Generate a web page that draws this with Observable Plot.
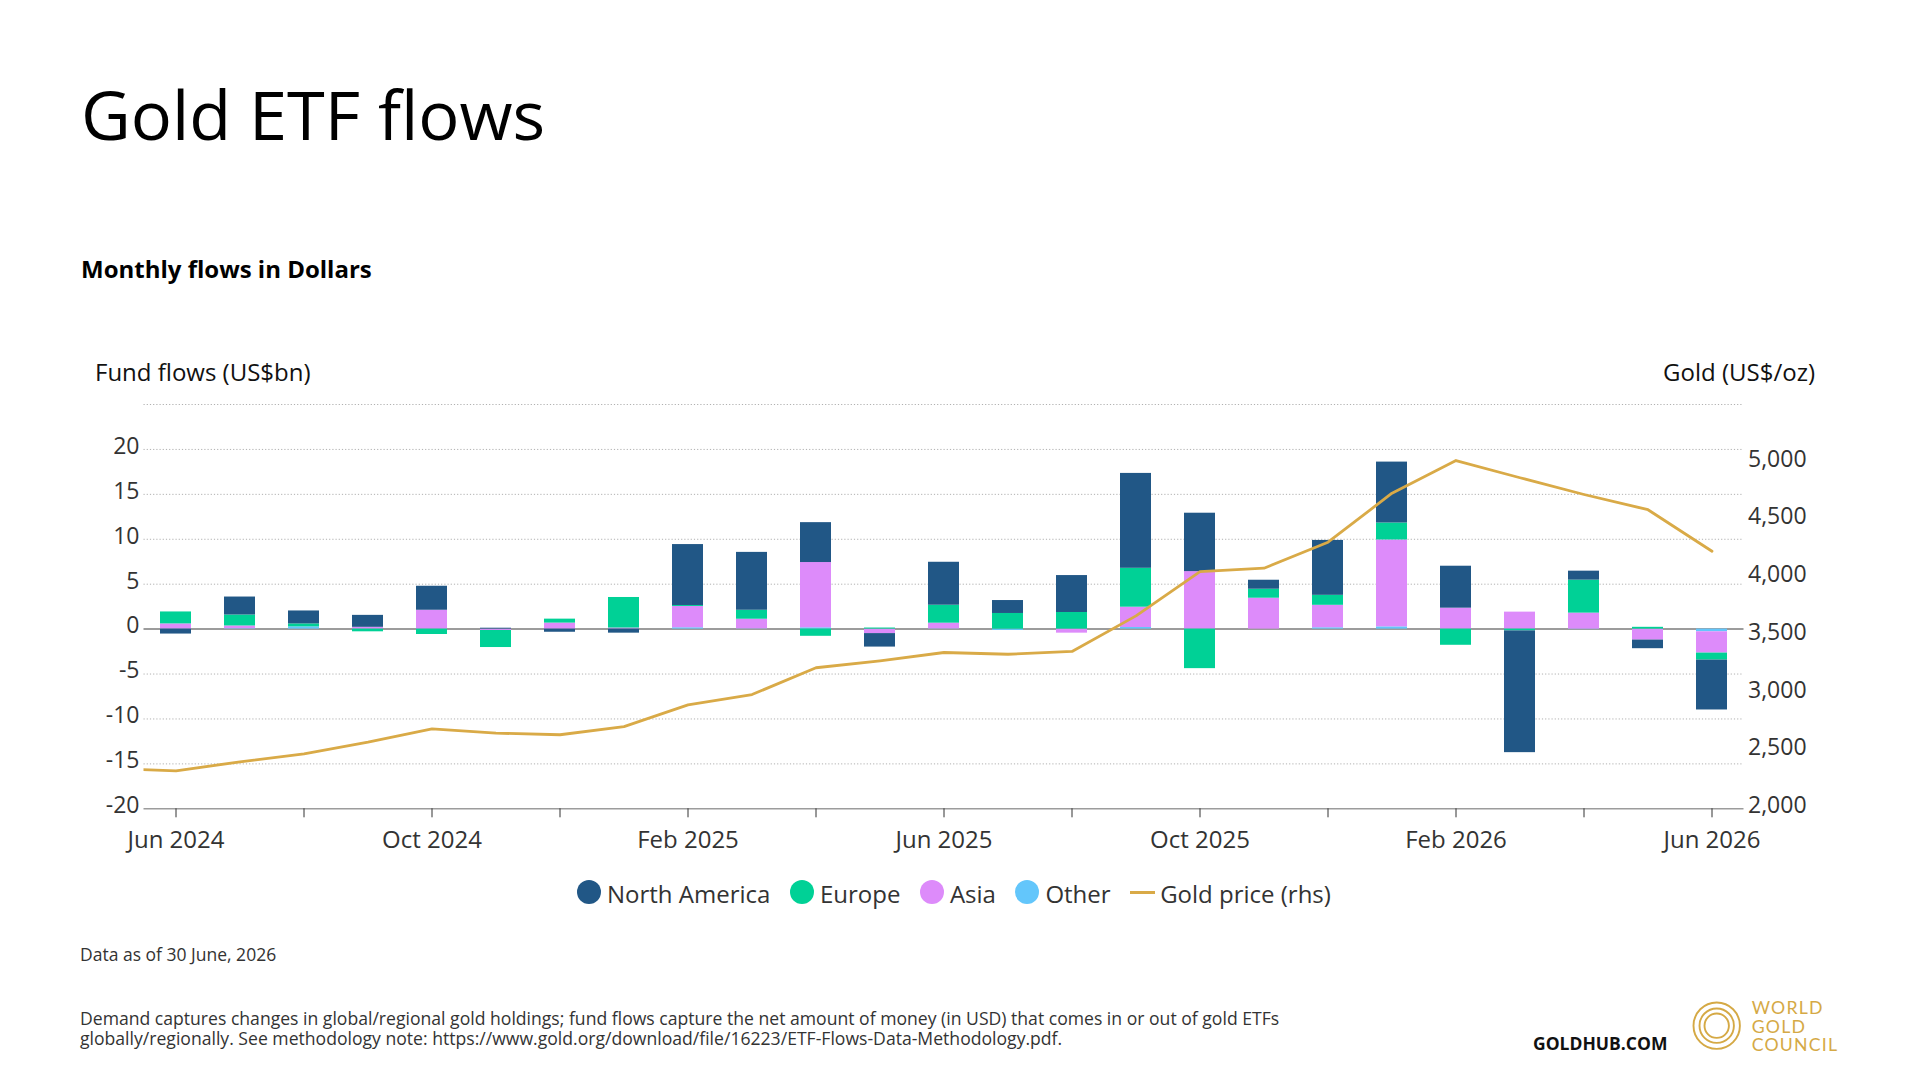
<!DOCTYPE html>
<html>
<head>
<meta charset="utf-8">
<script src="https://cdn.jsdelivr.net/npm/d3@7"></script>
<script src="https://cdn.jsdelivr.net/npm/@observablehq/plot@0.6"></script>
<style>
  html, body { margin: 0; padding: 0; background: #fff; }
  #page { position: relative; width: 1920px; height: 1080px; overflow: hidden; font-family: "Open Sans", sans-serif; color: #000; }
  .abs { position: absolute; white-space: nowrap; }
  #title { left: 81px; top: 80px; font-size: 68.5px; line-height: 68.5px; }
  #subtitle { left: 81px; top: 257px; font-size: 24px; line-height: 24px; font-weight: 700; }
  #ytitle-left { left: 95px; top: 360px; font-size: 24px; line-height: 24px; color: #111; }
  #ytitle-right { right: 105px; top: 360px; font-size: 24px; line-height: 24px; color: #111; }
  #chart { position: absolute; left: 0; top: 390px; }
  #legend { position: absolute; left: 577px; top: 882px; display: flex; align-items: center; font-size: 24px; line-height: 24px; color: #333; }
  #legend .item { display: flex; align-items: center; margin-right: 19.5px; }
  #legend .dot { width: 24px; height: 24px; border-radius: 50%; margin-right: 6px; position: relative; top: -2px; }
  #legend .dash { width: 25px; height: 3px; margin-right: 5px; position: relative; top: -2px; }
  #asof { left: 80px; top: 946px; font-size: 17.5px; line-height: 17.5px; color: #333; }
  .note { left: 80px; font-size: 17.6px; line-height: 17.6px; color: #333; }
  #note1 { top: 1010px; }
  #note2 { top: 1030px; }
  #goldhub { left: 1533px; top: 1035px; font-size: 17.5px; line-height: 17.5px; font-weight: 700; color: #111; }
  #logo { position: absolute; left: 1680px; top: 990px; }
</style>
</head>
<body>
<div id="page">
  <div id="title" class="abs">Gold ETF flows</div>
  <div id="subtitle" class="abs">Monthly flows in Dollars</div>
  <div id="ytitle-left" class="abs">Fund flows (US$bn)</div>
  <div id="ytitle-right" class="abs">Gold (US$/oz)</div>
  <div id="chart"></div>
  <div id="legend"></div>
  <div id="asof" class="abs">Data as of 30 June, 2026</div>
  <div id="note1" class="abs note">Demand captures changes in global/regional gold holdings; fund flows capture the net amount of money (in USD) that comes in or out of gold ETFs</div>
  <div id="note2" class="abs note">globally/regionally. See methodology note: https://www.gold.org/download/file/16223/ETF-Flows-Data-Methodology.pdf.</div>
  <div id="goldhub" class="abs">GOLDHUB.COM</div>
  <svg id="logo" width="220" height="72">
    <g fill="none" stroke="#d5a945" stroke-width="1.9">
      <circle cx="36.7" cy="35.7" r="23.2"></circle>
      <circle cx="36.7" cy="35.7" r="17.2"></circle>
      <circle cx="36.7" cy="35.7" r="12.2"></circle>
    </g>
    <g fill="#d5a945" font-family="Lato, sans-serif" font-size="17.7" letter-spacing="1.2">
      <text x="71.7" y="24.3">WORLD</text>
      <text x="71.7" y="43.3">GOLD</text>
      <text x="71.7" y="61">COUNCIL</text>
    </g>
  </svg>
</div>
<script>
// months on the x axis
const months = ["Jun 2024", "Jul 2024", "Aug 2024", "Sep 2024", "Oct 2024", "Nov 2024", "Dec 2024",
  "Jan 2025", "Feb 2025", "Mar 2025", "Apr 2025", "May 2025", "Jun 2025", "Jul 2025", "Aug 2025",
  "Sep 2025", "Oct 2025", "Nov 2025", "Dec 2025", "Jan 2026", "Feb 2026", "Mar 2026", "Apr 2026",
  "May 2026", "Jun 2026"]

// fund flows, US$bn
const northAmerica = [-0.55, 2.0, 1.44, 1.33, 2.67, 0.1, -0.35, -0.45, 6.78, 6.44, 4.44, -1.5, 4.78,
  1.44, 4.11, 10.56, 6.5, 1.0, 6.11, 6.78, 4.67, -13.55, 1.0, -0.96, -5.55]
const europe = [1.33, 1.22, 0.33, -0.3, -0.6, -1.9, 0.44, 3.4, 0.11, 1.0, -0.8, 0.12, 2.0,
  1.74, 1.85, 4.33, -4.4, 1.0, 1.11, 1.89, -1.8, -0.2, 3.67, 0.2, -0.78]
const asia = [0.56, 0.3, 0, 0.2, 2.1, -0.15, 0.67, 0.1, 2.37, 1.07, 7.26, -0.5, 0.63,
  0, -0.45, 2.26, 6.4, 3.44, 2.5, 9.67, 2.33, 1.89, 1.78, -1.22, -2.37]
const other = [0.02, 0.05, 0.25, 0, 0, 0, 0, 0.02, 0.15, 0.03, 0.15, 0, 0.03,
  -0.15, 0, 0.18, 0, 0, 0.15, 0.25, 0, 0, -0.05, 0, -0.3]

// gold price, US$/oz (starts one month before the first bar, cut by the frame)
const goldMonths = ["May 2024", ...months]
const goldPrice = [2350, 2329, 2407, 2476, 2577, 2692, 2655, 2641, 2712, 2900, 2989, 3221, 3281,
  3353, 3338, 3362, 3670, 4054, 4083, 4308, 4732, 5015, 4866, 4721, 4589, 4230]

// axis ticks
const flowTicks = [-20, -15, -10, -5, 0, 5, 10, 15, 20]
const goldTicks = [2000, 2500, 3000, 3500, 4000, 4500, 5000]
const flowGrid = [-15, -10, -5, 5, 10, 15, 20, 25]

const regions = ["North America", "Europe", "Asia", "Other"]
const regionColors = ["#215786", "#00d196", "#dd8bfa", "#63c6fb"]
const goldColor = "#d9aa47"

// long table, stacked from the baseline outwards: Other, Asia, Europe, North America
const byRegion = {"North America": northAmerica, "Europe": europe, "Asia": asia, "Other": other}
const stackOrder = ["Other", "Asia", "Europe", "North America"]
const rows = months.flatMap((m, i) => stackOrder.map(r => ({i, month: m, region: r, value: byRegion[r][i]})))
const goldRows = goldMonths.map((m, k) => ({i: months.indexOf(m) >= 0 ? months.indexOf(m) : -1, month: m, price: goldPrice[k]}))

// right axis (gold) is mapped onto the left one
const goldToFlow = d3.scaleLinear([2000, 5500], [-20, 25])
// each month covers one unit centred on its index
const monthBand = {floor: x => x - 0.5, offset: x => x + 1}

let chart = Plot.plot({
  width: 1920,
  height: 480,
  marginTop: 14,
  marginBottom: 61.7,
  marginLeft: 143.5,
  marginRight: 176.5,
  style: {fontFamily: "'Open Sans', sans-serif", fontSize: "23px", color: "#333", background: "transparent"},
  x: {type: "linear", domain: [-0.5, months.length - 0.5], axis: null},
  y: {domain: [-20, 25], axis: null},
  color: {domain: regions, range: regionColors},
  marks: [
    Plot.gridY(flowGrid, {stroke: "#b0b0b0", strokeOpacity: 1, strokeDasharray: "1.2,2"}),
    Plot.ruleY([0], {stroke: "#9c9c9c", strokeWidth: 2}),
    Plot.rectY(rows, Plot.stackY({x: "i", interval: monthBand, y: "value", fill: "region", insetLeft: 16.5, insetRight: 16.5})),
    Plot.line(goldRows, {x: "i", y: d => goldToFlow(d.price), stroke: goldColor, strokeWidth: 2.8, clip: true}),
    Plot.ruleY([-20], {stroke: "#9c9c9c", strokeWidth: 1.5}),
    // labelled ticks every four months, bare ticks in between
    Plot.axisX(d3.range(0, months.length, 4), {tickSize: 9, tickPadding: 13, fontSize: 24, color: "#333",
      tickFormat: i => months[i], label: null}),
    Plot.axisX(d3.range(2, months.length, 4), {tickSize: 9, stroke: "#333", fill: "none", label: null}),
    Plot.axisY(flowTicks, {anchor: "left", tickSize: 0, tickPadding: 4.5, fontSize: 23, dy: -3, color: "#333",
      tickFormat: d => String(d), label: null}),
    Plot.axisY(goldTicks, {anchor: "right", y: goldToFlow, tickSize: 0, tickPadding: 4, fontSize: 23, dy: -3, color: "#333",
      tickFormat: d3.format(","), label: null})
  ]
})
d3.select('#chart').append(() => chart)

// legend
const legend = d3.select('#legend')
regions.forEach((r, k) => {
  const item = legend.append('div').attr('class', 'item')
  item.append('div').attr('class', 'dot').style('background', regionColors[k])
  item.append('span').text(r)
})
const goldItem = legend.append('div').attr('class', 'item')
goldItem.append('div').attr('class', 'dash').style('background', goldColor)
goldItem.append('span').text('Gold price (rhs)')
</script>
</body>
</html>
